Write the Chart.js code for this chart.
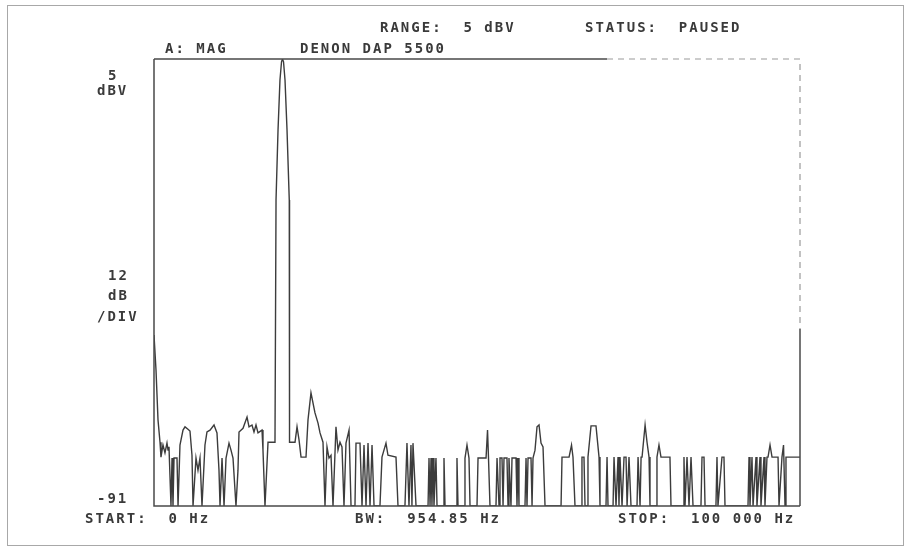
<!DOCTYPE html>
<html>
<head>
<meta charset="utf-8">
<title>DENON DAP 5500 spectrum</title>
<script src="https://cdn.jsdelivr.net/npm/chart.js@4.4.1/dist/chart.umd.min.js"></script>
<style>
  html, body { margin: 0; padding: 0; background: #fff; }
  #wrap { width: 910px; height: 547px; position: relative; }
</style>
</head>
<body>
<div id="wrap"><canvas id="spec" width="910" height="547"></canvas></div>
<script>
// analyzer settings
const rangeStart = 0;        // Hz
const rangeStop = 100000;    // Hz
const levelTop = 5;          // dBV
const levelBottom = -91;     // dBV

// trace, frequency in Hz
const freqHz = [
    0, 310, 620, 930, 1080, 1390, 1700, 2010, 2170, 2320,
    2630, 2790, 2940, 3100, 3560, 3720, 4020, 4490, 4800, 5260,
    5570, 5880, 6040, 6500, 6810, 7120, 7430, 7890, 8200, 8670,
    9290, 9750, 10060, 10220, 10530, 10840, 11150, 11610, 11920, 12230,
    12690, 13000, 13160, 13780, 14400, 14710, 15170, 15480, 15790, 16100,
    16720, 16870, 17180, 17650, 18730, 18890, 19200, 19500, 19740, 19890,
    20050, 20280, 20590, 20940, 20980, 21830, 22140, 22450, 22760, 23530,
    23840, 24300, 24920, 25390, 25700, 26160, 26470, 26780, 27090, 27400,
    27710, 28170, 28480, 28790, 29100, 29410, 29720, 30190, 30500, 31110,
    31270, 31890, 32200, 32510, 32820, 33130, 33440, 33750, 34060, 34980,
    35290, 35910, 36220, 37460, 37770, 38850, 39160, 39470, 39780, 39930,
    40090, 40560, 42420, 42570, 42730, 42880, 43030, 43190, 43340, 43650,
    43810, 44740, 44890, 45050, 46750, 46900, 47060, 47990, 48140, 48450,
    48760, 48920, 50000, 50160, 51400, 51630, 51780, 52010, 52940, 53100,
    53410, 53560, 53870, 54030, 54180, 54640, 54800, 54950, 55260, 55420,
    56040, 56190, 56350, 56500, 57430, 57590, 57740, 57900, 58360, 58520,
    58670, 58980, 59290, 59600, 59910, 60220, 60530, 63010, 63160, 64250,
    64630, 64860, 65170, 66100, 66250, 66560, 66720, 67030, 67180, 67650,
    68420, 68890, 69040, 69970, 70130, 70280, 71060, 71210, 71520, 71830,
    71980, 72140, 72450, 72760, 73070, 73230, 73530, 73840, 74770, 74930,
    75240, 75400, 75550, 76020, 76320, 76630, 76780, 77710, 77860, 78170,
    78480, 79870, 80030, 81890, 82040, 82200, 82510, 82820, 83130, 83440,
    84670, 84830, 85140, 85300, 86990, 87150, 87300, 87920, 88230, 88390,
    91950, 92110, 92260, 92570, 92730, 93190, 93340, 93810, 93960, 94430,
    94580, 94890, 95050, 95360, 95670, 96600, 96750, 97210, 97450, 97680,
    97830, 100000
];

// trace, level in dBV
const levelDbv = [
    -54.3, -61.8, -72.5, -77.3, -80.5, -77.9, -79.6, -77.5, -79.0, -78.3,
    -91, -80.7, -91, -80.7, -80.7, -91, -77.9, -74.7, -74.0, -74.5,
    -74.9, -80.1, -91, -80.7, -83.3, -80.7, -91, -77.9, -75.1, -74.7,
    -73.6, -75.3, -83.3, -91, -80.7, -91, -80.7, -77.5, -79.0, -80.7,
    -91, -83.3, -75.1, -74.3, -71.9, -74.0, -73.6, -75.1, -73.6, -75.3,
    -74.7, -79.0, -91, -77.3, -77.3, -25.3, -10.2, 0.5, 4.4, 5.0,
    4.4, 0.5, -10.2, -25.3, -77.3, -77.3, -74.0, -76.8, -80.5, -80.5,
    -72.5, -66.7, -71.0, -73.2, -75.3, -77.3, -91, -78.3, -80.7, -80.1,
    -91, -74.0, -79.0, -77.3, -78.3, -91, -77.5, -74.7, -91, -91,
    -77.5, -77.5, -91, -77.9, -91, -77.5, -91, -77.9, -91, -91,
    -80.5, -77.5, -80.1, -80.5, -91, -91, -77.5, -91, -77.9, -91,
    -77.5, -91, -91, -80.7, -91, -80.7, -91, -80.7, -91, -80.7,
    -91, -91, -80.7, -91, -91, -80.7, -91, -91, -80.7, -77.9,
    -80.7, -91, -91, -80.7, -80.7, -74.7, -80.7, -91, -91, -80.7,
    -91, -80.7, -80.7, -91, -80.7, -80.7, -91, -80.7, -91, -80.7,
    -80.7, -91, -80.7, -91, -91, -80.7, -91, -80.7, -80.7, -91,
    -80.7, -79.0, -74.0, -73.6, -77.5, -78.3, -91, -91, -80.5, -80.5,
    -77.9, -80.5, -91, -91, -80.5, -80.5, -91, -91, -80.5, -73.8,
    -73.8, -80.5, -91, -91, -80.5, -91, -91, -80.5, -91, -80.5,
    -91, -80.5, -91, -80.5, -80.5, -91, -80.5, -91, -91, -80.5,
    -91, -80.5, -80.5, -73.6, -77.3, -80.5, -91, -91, -80.5, -77.9,
    -80.5, -80.5, -91, -91, -80.5, -91, -80.5, -91, -80.5, -91,
    -91, -80.5, -80.5, -91, -91, -80.5, -91, -80.5, -80.5, -91,
    -91, -80.5, -91, -80.5, -91, -80.5, -91, -80.5, -91, -80.5,
    -91, -80.5, -80.5, -77.9, -80.5, -80.5, -91, -80.5, -77.9, -91,
    -80.5, -80.5
];

// header / footer annotations
const headerTexts = ["RANGE:  5 dBV", "STATUS:  PAUSED"];
const traceTexts = ["A: MAG", "DENON DAP 5500"];
const scaleTexts = ["5", "dBV", "12", "dB", "/DIV", "-91"];
const footerTexts = ["START:  0 Hz", "BW:  954.85 Hz", "STOP:  100 000 Hz"];

const INK = '#3a3a3a';

// draws the plot frame, the page border and the analyzer annotations
const analyzerDecor = {
    id: 'analyzerDecor',
    afterDraw(chart) {
        const ctx = chart.ctx;
        const a = chart.chartArea;
        ctx.save();

        // outer page border
        ctx.strokeStyle = '#a8a8a8';
        ctx.lineWidth = 1;
        ctx.strokeRect(7.5, 5.5, 896, 540);

        // plot frame: left + bottom solid, top/right partly faded
        ctx.strokeStyle = '#4a4a4a';
        ctx.lineWidth = 1.5;
        ctx.beginPath();
        ctx.moveTo(a.left, a.top);
        ctx.lineTo(a.left, a.bottom);
        ctx.lineTo(a.right, a.bottom);
        ctx.moveTo(a.left, a.top);
        ctx.lineTo(a.left + 453, a.top);
        ctx.moveTo(a.right, a.bottom);
        ctx.lineTo(a.right, a.top + 270);
        ctx.stroke();

        ctx.strokeStyle = '#9a9a9a';
        ctx.lineWidth = 1.2;
        ctx.setLineDash([6, 5]);
        ctx.beginPath();
        ctx.moveTo(a.left + 453, a.top);
        ctx.lineTo(a.right, a.top);
        ctx.lineTo(a.right, a.top + 270);
        ctx.stroke();
        ctx.setLineDash([]);

        // text
        ctx.fillStyle = INK;
        ctx.font = 'bold 14px "DejaVu Sans Mono", monospace';
        ctx.letterSpacing = '2px';
        ctx.textBaseline = 'alphabetic';
        ctx.textAlign = 'left';

        ctx.fillText(headerTexts[0], 380, 32);
        ctx.fillText(headerTexts[1], 585, 32);

        ctx.fillText(traceTexts[0], 165, 53);
        ctx.fillText(traceTexts[1], 300, 53);

        ctx.fillText(scaleTexts[0], 108, 80);
        ctx.fillText(scaleTexts[1], 97, 95);
        ctx.fillText(scaleTexts[2], 108, 280);
        ctx.fillText(scaleTexts[3], 108, 300);
        ctx.fillText(scaleTexts[4], 97, 321);
        ctx.fillText(scaleTexts[5], 97, 503);

        ctx.fillText(footerTexts[0], 85, 523);
        ctx.fillText(footerTexts[1], 355, 523);
        ctx.fillText(footerTexts[2], 618, 523);

        ctx.restore();
    }
};

const points = freqHz.map((f, i) => ({ x: f, y: levelDbv[i] }));

new Chart(document.getElementById('spec'), {
    type: 'line',
    data: {
        datasets: [{
            data: points,
            borderColor: '#3c3c3c',
            borderWidth: 1.4,
            pointRadius: 0,
            tension: 0,
            fill: false
        }]
    },
    options: {
        responsive: false,
        devicePixelRatio: 1,
        animation: false,
        layout: { padding: { left: 154, right: 110, top: 59, bottom: 41 } },
        plugins: {
            legend: { display: false },
            tooltip: { enabled: false }
        },
        scales: {
            x: { type: 'linear', min: rangeStart, max: rangeStop, display: false },
            y: { type: 'linear', min: levelBottom, max: levelTop, display: false }
        }
    },
    plugins: [analyzerDecor]
});
</script>
</body>
</html>
